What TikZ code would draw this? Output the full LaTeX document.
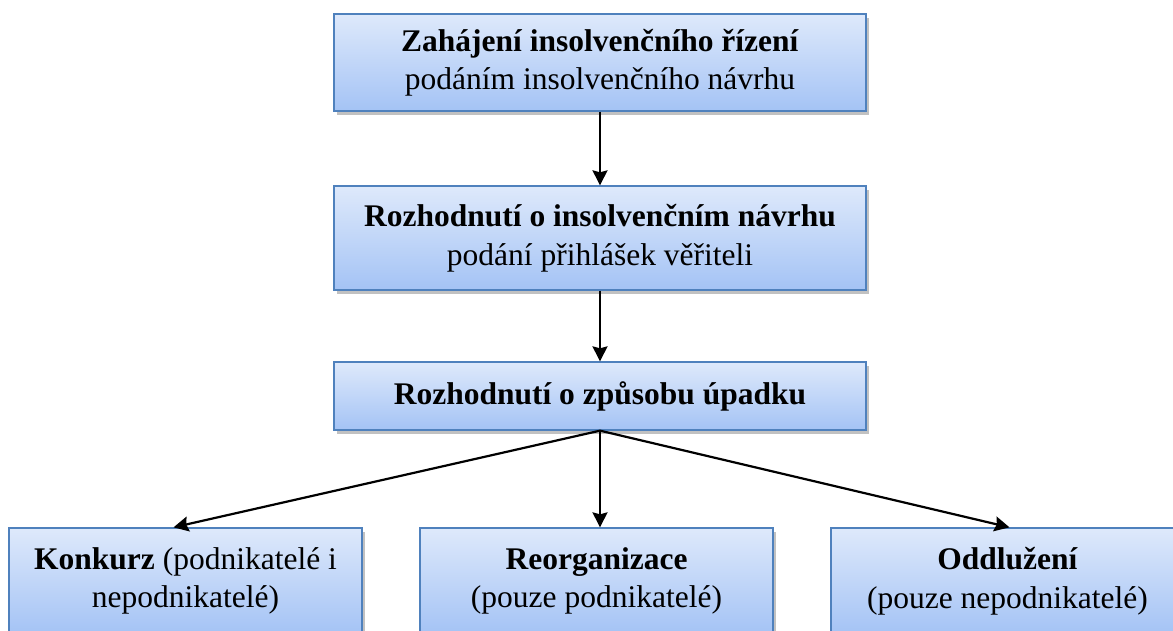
\documentclass[tikz,border=0pt]{standalone}
\usepackage{fontspec}
\setmainfont{LiberationSerif}[Extension=.ttf, UprightFont=*-Regular, BoldFont=*-Bold, ItalicFont=*-Italic, BoldItalicFont=*-BoldItalic]
\usetikzlibrary{shadows,arrows.meta}
\definecolor{boxtop}{HTML}{DEE9FB}
\definecolor{boxbot}{HTML}{A4C3F5}
\definecolor{boxline}{HTML}{4F81BD}
\tikzset{
  box/.style={draw=boxline, line width=1.3pt, top color=boxtop, bottom color=boxbot,
    drop shadow={opacity=0.35, shadow xshift=3pt, shadow yshift=-4pt, fill=black!70},
    align=center, inner sep=0pt, font=\fontsize{31.5}{38.5}\selectfont},
  conn/.style={line width=2.2pt, -{Stealth[length=15pt, width=15pt, inset=2pt]}}
}
\begin{document}
\begin{tikzpicture}[x=1pt,y=1pt]
\useasboundingbox (0,0) rectangle (1173,-630);
\node[box, minimum width=532pt, minimum height=97pt] (A) at (600,-62.5)
  {\textbf{Zahájení insolvenčního řízení}\\podáním insolvenčního návrhu};
\node[box, minimum width=532pt, minimum height=104pt] (B) at (600,-238)
  {\textbf{Rozhodnutí o insolvenčním návrhu}\\podání přihlášek věřiteli};
\node[box, minimum width=532pt, minimum height=68pt] (C) at (600,-396)
  {\textbf{Rozhodnutí o způsobu úpadku}};
\node[box, minimum width=353pt, minimum height=106pt] (D) at (185.5,-581)
  {\textbf{Konkurz} (podnikatelé i\\nepodnikatelé)};
\node[box, minimum width=353pt, minimum height=106pt] (E) at (596.5,-581)
  {\textbf{Reorganizace}\\(pouze podnikatelé)};
\node[box, minimum width=353pt, minimum height=106pt] (F) at (1007.5,-581)
  {\textbf{Oddlužení}\\(pouze nepodnikatelé)};
\draw[conn] (A.south) -- (B.north);
\draw[conn] (B.south) -- (C.north);
\draw[conn] (C.south) -- ([xshift=-12pt]D.north);
\draw[conn] (C.south) -- ([xshift=3.5pt]E.north);
\draw[conn] (C.south) -- ([xshift=2pt]F.north);
\end{tikzpicture}
\end{document}
